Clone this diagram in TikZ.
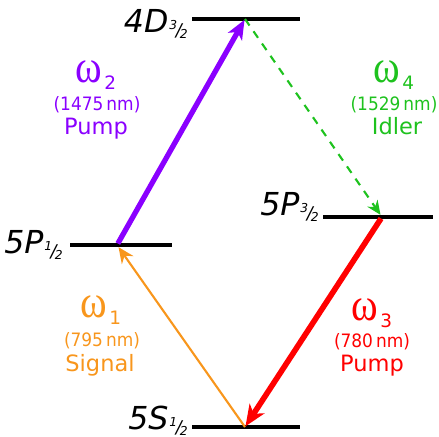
\documentclass[tikz,border=0pt]{standalone}
\usepackage{fontspec}
\setmainfont{DejaVu Sans}
\newfontfamily\grkfont{Liberation Serif}
\newfontfamily\numfont[FakeStretch=0.92]{DejaVu Sans}
\usetikzlibrary{arrows.meta,positioning}
\definecolor{pumpPurple}{HTML}{8A00FF}
\definecolor{idlerGreen}{HTML}{1EC21E}
\definecolor{signalOrange}{HTML}{F8961C}
\definecolor{pumpRed}{HTML}{FF0000}
% small slanted fraction for the level subscripts
\newcommand{\lvlfrac}[2]{\kern0.03em{\fontsize{7}{7}\selectfont\raisebox{1.2pt}{#1}\kern-0.12em{\fontsize{10}{10}\selectfont\raisebox{-2.5pt}{/}}\kern-0.15em\raisebox{-3.8pt}{#2}}}
\newcommand{\wsub}[1]{{\grkfont\fontsize{23}{23}\selectfont\scalebox{1}[1.15]{ω}}\kern0.1em\raisebox{-4pt}{\fontsize{10.5}{10.5}\selectfont #1}}

\begin{document}
\begin{tikzpicture}[x=0.02cm, y=-0.02cm,
    level/.style={line width=2pt, black},
    lvlname/.style={font=\fontsize{18}{18}\selectfont\itshape, anchor=base east, inner sep=0pt},
    freq/.style={anchor=base, inner sep=0pt},
    wavelen/.style={font=\numfont\fontsize{10.5}{12}\selectfont, anchor=base, inner sep=0pt},
    role/.style={font=\fontsize{12.8}{14}\selectfont, anchor=base, inner sep=0pt}]
    \useasboundingbox (0,0) rectangle (439,436);

    % energy levels
    \draw[level] (192,19) coordinate (D-w) -- (300,19) coordinate (D-e);
    \draw[level] (70,245) coordinate (P1-w) -- (172,245) coordinate (P1-e);
    \draw[level] (323,217) coordinate (P3-w) -- (433,217) coordinate (P3-e);
    \draw[level] (192,427) coordinate (S-w) -- (300,427) coordinate (S-e);
    \node[lvlname] (lblD) at (188,32) {4D\lvlfrac{3}{2}};
    \node[lvlname] (lblP1) at (63,253) {5P\lvlfrac{1}{2}};
    \node[lvlname] (lblP3) at (319,215) {5P\lvlfrac{3}{2}};
    \node[lvlname] (lblS) at (188,429) {5S\lvlfrac{1}{2}};

    % transition points
    \coordinate (S) at (245,427);
    \coordinate (P1) at (117,245);
    \coordinate (P3) at (382,217);
    \coordinate (D) at (245,19);

    \draw[signalOrange, line width=1.2pt, shorten >=1.5pt,
        -{Stealth[length=9pt, width=8pt, inset=3pt]}] (S) -- (P1);
    \draw[pumpPurple, line width=3pt, shorten <=1pt, shorten >=0.5pt,
        -{Stealth[length=11pt, width=9pt, inset=3pt]}] (P1) -- (D);
    \draw[idlerGreen, line width=1.2pt, dash pattern=on 4.5pt off 4pt, shorten >=1.5pt,
        -{Stealth[length=8pt, width=7pt, inset=2.5pt]}] (D) -- (P3);
    \draw[pumpRed, line width=3.2pt, shorten <=1pt, shorten >=0.5pt,
        -{Stealth[length=12pt, width=10pt, inset=3.5pt]}] (P3) -- (S);

    % labels
    \node[freq, text=pumpPurple] (w2) at (96,82) {\wsub{2}};
    \node[wavelen, text=pumpPurple] (w2nm) at (97,110) {(1475\,nm)};
    \node[role, text=pumpPurple] (w2role) at (96,134) {Pump};

    \node[freq, text=idlerGreen] (w4) at (394,82) {\wsub{4}};
    \node[wavelen, text=idlerGreen] (w4nm) at (394,110) {(1529\,nm)};
    \node[role, text=idlerGreen] (w4role) at (397,134) {Idler};

    \node[freq, text=signalOrange] (w1) at (101,317) {\wsub{1}};
    \node[wavelen, text=signalOrange] (w1nm) at (102,346) {(795\,nm)};
    \node[role, text=signalOrange] (w1role) at (100,371) {Signal};

    \node[freq, text=pumpRed] (w3) at (372,320) {\wsub{3}};
    \node[wavelen, text=pumpRed] (w3nm) at (372,347) {(780\,nm)};
    \node[role, text=pumpRed] (w3role) at (372,371) {Pump};
\end{tikzpicture}
\end{document}
